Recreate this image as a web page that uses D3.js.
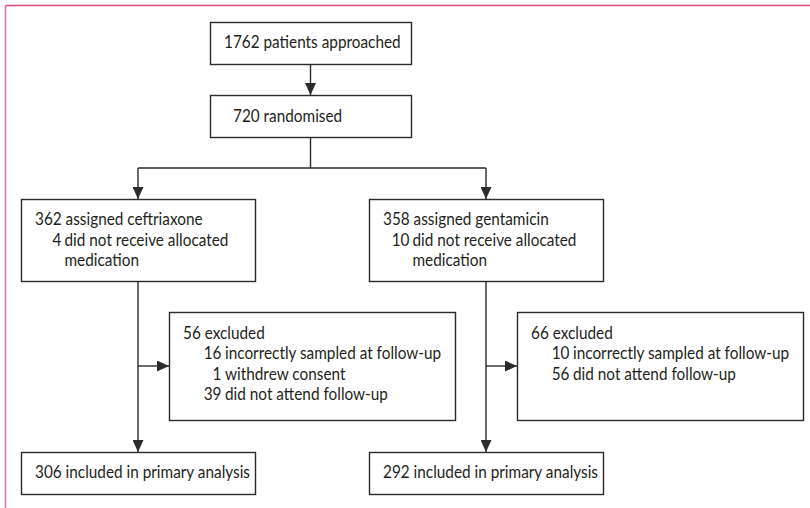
<!DOCTYPE html>
<html>
<head>
<meta charset="utf-8">
<script src="https://cdn.jsdelivr.net/npm/d3@7"></script>
<style>
  body { margin: 0; background: #fff; }
  text { font-family: Lato, "Open Sans", sans-serif; font-size: 16.6px; fill: #231f20; }
</style>
</head>
<body>
<div id="chart"></div>
<script>
// flow counts
const approached = 1762;
const randomised = 720;
const armNames = ["ceftriaxone", "gentamicin"];
const armAssigned = [362, 358];
const armNotReceived = [4, 10];
const armExcluded = [56, 66];
const exclusionCounts = [[16, 1, 39], [10, 56]];
const exclusionReasons = [
    ["incorrectly sampled at follow-up", "withdrew consent", "did not attend follow-up"],
    ["incorrectly sampled at follow-up", "did not attend follow-up"]
];
const armAnalysed = [306, 292];

const width = 810, height = 508;
const lineColor = "#2b2b2b";
const lineH = 20.5;
const squeeze = 0.925; // the original face is narrower than Lato

const svg = d3.select("#chart").append("svg")
    .attr("width", width)
    .attr("height", height);

// pink frame (top + left only)
svg.append("line").attr("x1", 5.5).attr("x2", width).attr("y1", 5.5).attr("y2", 5.5)
    .style("stroke", "#d9487a").style("stroke-width", 1.6);
svg.append("line").attr("x1", 5.5).attr("x2", 5.5).attr("y1", 5.5).attr("y2", height)
    .style("stroke", "#df7098").style("stroke-width", 1.6);

// arrowhead marker
svg.append("defs").append("marker")
    .attr("id", "arrow")
    .attr("viewBox", "0 0 12 11")
    .attr("refX", 12).attr("refY", 5.5)
    .attr("markerWidth", 12).attr("markerHeight", 11)
    .attr("markerUnits", "userSpaceOnUse")
    .attr("orient", "auto")
    .append("path")
    .attr("d", "M0,0 L12,5.5 L0,11 Z")
    .style("fill", lineColor);

// arm box left edges
const xArm = d3.scalePoint().domain(armNames).range([21, 369]);
const armW = 234;
const exclOffset = 148, exclW = 286;

// vertical layout
const y = {
    top1: 22, bot1: 64,
    top2: 95, bot2: 137,
    branch: 168,
    armTop: 199, armBot: 281,
    exclTop: 312, exclBot: 420,
    finTop: 452, finBot: 494
};

function box(x0, y0, w, h) {
    svg.append("rect")
        .attr("x", x0 + 0.5).attr("y", y0 + 0.5)
        .attr("width", w).attr("height", h)
        .style("fill", "white")
        .style("stroke", lineColor)
        .style("stroke-width", 1.4);
}
function arrow(pts) {
    svg.append("path")
        .attr("d", d3.line()(pts))
        .style("fill", "none")
        .style("stroke", lineColor)
        .style("stroke-width", 1.4)
        .attr("marker-end", "url(#arrow)");
}
function label(x0, y0, str, anchor) {
    svg.append("text")
        .attr("transform", `translate(${x0},${y0}) scale(${squeeze},1)`)
        .style("text-anchor", anchor || "start")
        .text(str);
}

// top boxes
const topX = 210, topW = 201, topC = topX + topW / 2;
box(topX, y.top1, topW, y.bot1 - y.top1);
label(224, 48, approached + " patients approached");
box(topX, y.top2, topW, y.bot2 - y.top2);
label(233, 121.5, randomised + " randomised");
arrow([[topC, y.bot1], [topC, y.top2]]);

// branch to arms
svg.append("path")
    .attr("d", d3.line()([[topC, y.bot2], [topC, y.branch]]))
    .style("stroke", lineColor).style("stroke-width", 1.4);
svg.append("path")
    .attr("d", d3.line()([[xArm(armNames[0]) + armW / 2, y.branch], [xArm(armNames[1]) + armW / 2, y.branch]]))
    .style("stroke", lineColor).style("stroke-width", 1.4);

armNames.forEach((name, i) => {
    const x0 = xArm(name);
    const cx = x0 + armW / 2;
    arrow([[cx, y.branch], [cx, y.armTop]]);

    // assigned box
    box(x0, y.armTop, armW, y.armBot - y.armTop);
    label(x0 + 14, 225, armAssigned[i] + " assigned " + name);
    label(x0 + 40.5, 225 + lineH, armNotReceived[i], "end");
    label(x0 + 43.5, 225 + lineH, "did not receive allocated");
    label(x0 + 43.5, 225 + 2 * lineH, "medication");

    // down to analysis, side arrow to exclusions
    arrow([[cx, y.armBot], [cx, y.finTop]]);
    const ex = x0 + exclOffset;
    const midY = (y.exclTop + y.exclBot) / 2;
    arrow([[cx, midY], [ex, midY]]);

    box(ex, y.exclTop, exclW, y.exclBot - y.exclTop);
    label(ex + 14, 338.5, armExcluded[i] + " excluded");
    exclusionCounts[i].forEach((n, j) => {
        const yy = 338.5 + (j + 1) * lineH;
        label(ex + 52.5, yy, n, "end");
        label(ex + 56, yy, exclusionReasons[i][j]);
    });

    // final box
    box(x0, y.finTop, armW, y.finBot - y.finTop);
    label(x0 + 14, 478, armAnalysed[i] + " included in primary analysis");
});
</script>
</body>
</html>
